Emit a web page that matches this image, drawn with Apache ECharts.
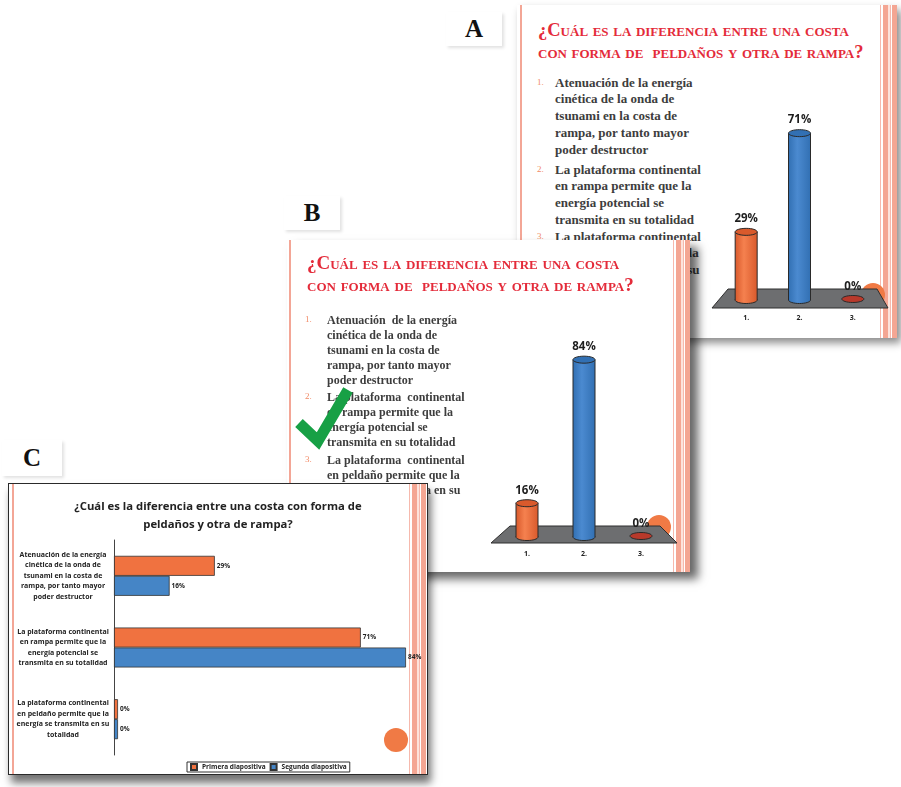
<!DOCTYPE html>
<html lang="es">
<head>
<meta charset="UTF-8">
<title>Diferencia entre costa de peldaños y de rampa</title>
<script src="https://cdn.jsdelivr.net/npm/echarts@6/dist/echarts.min.js"></script>
<style>
    body { margin: 0; width: 901px; height: 787px; position: relative; overflow: hidden; background: #fff; }
    .slide { position: absolute; background: #fff; box-sizing: border-box; }
    .raya { position: absolute; top: 0; bottom: 0; width: 1.5px; background: #f3a696; }
    .franjas { position: absolute; top: 0; bottom: 0; width: 17px;
        background: linear-gradient(to right, #f6b9ad 0, #f6b9ad 1px, #fff 1px, #fff 3px, #f4a693 3px, #f4a693 8px,
            #fde3dc 8px, #fde3dc 10px, #f6b9ad 10px, #f6b9ad 11px, #fff 11px, #fff 12px, #f4a693 12px, #f4a693 17px); }
    .titulo { position: absolute; font-family: "Liberation Serif", serif; font-weight: bold; font-variant: small-caps;
        color: #e42b3a; line-height: 22px; white-space: nowrap; }
    .num { position: absolute; font-family: "Liberation Serif", serif; font-size: 9px; color: #f18a66; }
    .item { position: absolute; font-family: "Liberation Serif", serif; font-weight: bold; color: #3d3d3d; white-space: nowrap; }
    .letra { position: absolute; font-family: "Liberation Serif", serif; font-weight: bold; font-size: 25px; color: #111;
        background: #fff; text-align: center; box-shadow: 2px 2px 3px rgba(0,0,0,0.12); }
    .grafico { position: absolute; }
</style>
</head>
<body>

<div class="letra" style="left: 446px; top: 12px; width: 56px; height: 34px; line-height: 34px;">A</div>
<div class="letra" style="left: 284px; top: 196px; width: 56px; height: 34px; line-height: 34px;">B</div>
<div class="letra" style="left: 2px; top: 440px; width: 60px; height: 36px; line-height: 36px;">C</div>

<!-- diapositiva A -->
<div class="slide" style="left: 517px; top: 5px; width: 380px; height: 333px; box-shadow: 4px 5px 8px rgba(0,0,0,0.45);">
    <div class="raya" style="left: 3px;"></div>
    <div class="franjas" style="right: 0;"></div>
    <div class="titulo" style="left: 21px; top: 14px; font-size: 18.5px;">¿Cuál es la diferencia entre una costa<br>con forma de&nbsp; peldaños y otra de rampa?</div>
    <div class="num" style="left: 20px; top: 72px;">1.</div>
    <div class="item" style="left: 38px; top: 69.6px; font-size: 13px; line-height: 16.8px;">Atenuación de la energía<br>cinética de la onda de<br>tsunami en la costa de<br>rampa, por tanto mayor<br>poder destructor</div>
    <div class="num" style="left: 20px; top: 159px;">2.</div>
    <div class="item" style="left: 38px; top: 156.6px; font-size: 13px; line-height: 16.8px;">La plataforma continental<br>en rampa permite que la<br>energía potencial se<br>transmita en su totalidad</div>
    <div class="num" style="left: 20px; top: 226px;">3.</div>
    <div class="item" style="left: 38px; top: 223.6px; font-size: 13px; line-height: 16.8px;">La plataforma continental<br>en peldaño permite que la<br>energía se transmita en su<br>totalidad</div>
</div>
<div id="graficoA" class="grafico" style="left: 700px; top: 100px; width: 195px; height: 230px;"></div>

<!-- diapositiva B -->
<div class="slide" style="left: 287px; top: 240px; width: 403px; height: 332px; box-shadow: 8px 7px 9px rgba(0,0,0,0.6);">
    <div class="raya" style="left: 2px;"></div>
    <div class="franjas" style="right: 0;"></div>
    <div class="titulo" style="left: 20px; top: 12px; font-size: 19px;">¿Cuál es la diferencia entre una costa<br>con forma de&nbsp; peldaños y otra de rampa?</div>
    <div class="num" style="left: 18px; top: 74px;">1.</div>
    <div class="item" style="left: 40px; top: 72.5px; font-size: 12px; line-height: 15px;">Atenuación&nbsp; de la energía<br>cinética de la onda de<br>tsunami en la costa de<br>rampa, por tanto mayor<br>poder destructor</div>
    <div class="num" style="left: 18px; top: 151px;">2.</div>
    <div class="item" style="left: 40px; top: 149.5px; font-size: 12px; line-height: 15px;">La plataforma&nbsp; continental<br>en rampa permite que la<br>energía potencial se<br>transmita en su totalidad</div>
    <div class="num" style="left: 18px; top: 214px;">3.</div>
    <div class="item" style="left: 40px; top: 212.5px; font-size: 12px; line-height: 15px;">La plataforma&nbsp; continental<br>en peldaño permite que la<br>energía se transmita en su<br>totalidad</div>
</div>
<div id="graficoB" class="grafico" style="left: 480px; top: 320px; width: 200px; height: 250px;"></div>
<svg style="position: absolute; left: 0; top: 0;" width="901" height="787">
    <polyline points="299,423 318,441 348,390" fill="none" stroke="#17a045" stroke-width="11"/>
</svg>

<!-- diapositiva C -->
<div class="slide" style="left: 8px; top: 483px; width: 420px; height: 292px; border: 1px solid #2a2a2a; box-shadow: 3px 8px 8px rgba(0,0,0,0.55);">
    <div class="raya" style="left: 3px;"></div>
    <div class="franjas" style="right: 1px;"></div>
</div>
<div id="graficoC" class="grafico" style="left: 8px; top: 483px; width: 420px; height: 292px;"></div>

<script>
    // datos
    var opciones = ['1.', '2.', '3.'];
    var respuestas = [
        'Atenuación de la energía\ncinética de la onda de\ntsunami en la costa de\nrampa, por tanto mayor\npoder destructor',
        'La plataforma continental\nen rampa permite que la\nenergía potencial se\ntransmita en su totalidad',
        'La plataforma continental\nen peldaño permite que la\nenergía se transmita en su\ntotalidad'
    ];
    var primera = [29, 71, 0];   // Primera diapositiva (A)
    var segunda = [16, 84, 0];   // Segunda diapositiva (B)
    var nombres = ['Primera diapositiva', 'Segunda diapositiva'];

    var fuente = '"Open Sans", sans-serif';

    var tonos = [
        {cuerpo: '#ef6b35', claro: '#f5814f', tapa: '#d95a2c'},
        {cuerpo: '#3a7bc2', claro: '#4b8ad0', tapa: '#3270b3'},
        {cuerpo: '#b8392b', claro: '#c4473a', tapa: '#b8392b'}
    ];

    function cilindros(ancho, ry) {
        return function (params, api) {
            var v = api.value(1);
            var arriba = api.coord([api.value(0), v]);
            var base = api.coord([api.value(0), 0]);
            var cx = base[0], rx = ancho / 2;
            var t = tonos[params.dataIndex];
            var hijos = [];
            if (v > 0) {
                var relleno = new echarts.graphic.LinearGradient(0, 0, 1, 0, [
                    {offset: 0, color: t.tapa},
                    {offset: 0.4, color: t.claro},
                    {offset: 1, color: t.tapa}
                ]);
                hijos.push({type: 'ellipse', shape: {cx: cx, cy: base[1], rx: rx, ry: ry},
                    style: {fill: relleno, stroke: '#2a2a2a', lineWidth: 1}});
                hijos.push({type: 'rect', shape: {x: cx - rx, y: arriba[1], width: ancho, height: base[1] - arriba[1]},
                    style: {fill: relleno}});
                hijos.push({type: 'line', shape: {x1: cx - rx, y1: arriba[1], x2: cx - rx, y2: base[1]},
                    style: {stroke: '#2a2a2a', lineWidth: 1}});
                hijos.push({type: 'line', shape: {x1: cx + rx, y1: arriba[1], x2: cx + rx, y2: base[1]},
                    style: {stroke: '#2a2a2a', lineWidth: 1}});
                hijos.push({type: 'ellipse', shape: {cx: cx, cy: arriba[1], rx: rx, ry: ry},
                    style: {fill: t.tapa, stroke: '#2a2a2a', lineWidth: 1}});
            } else {
                hijos.push({type: 'ellipse', shape: {cx: cx, cy: base[1] - 1, rx: rx, ry: ry},
                    style: {fill: t.cuerpo, stroke: '#2a2a2a', lineWidth: 1}});
            }
            hijos.push({type: 'text', style: {text: v + '%', x: cx, y: arriba[1] - 13,
                align: 'center', verticalAlign: 'middle', textAlign: 'center', textVerticalAlign: 'middle',
                fill: '#1e1e1e', font: 'bold 11.5px "Open Sans"'}});
            return {type: 'group', children: hijos};
        };
    }

    function columnas(valores, max, grid, piso, circulo, margen) {
        return {
            animation: false,
            grid: grid,
            xAxis: {
                type: 'category', data: opciones,
                axisLine: {show: false}, axisTick: {show: false},
                axisLabel: {margin: margen, fontSize: 7, fontWeight: 'bold', color: '#222', fontFamily: fuente}
            },
            yAxis: {type: 'value', min: 0, max: max, show: false, splitLine: {show: false}},
            graphic: [
                {type: 'circle', shape: circulo, style: {fill: '#f07a45'}, z: 0},
                {type: 'polygon', shape: {points: piso}, style: {fill: '#6d6e70', stroke: '#2e2e2e', lineWidth: 1}, z: 1}
            ],
            series: [{
                type: 'custom',
                renderItem: cilindros(22, 3.5),
                data: valores.map(function (v, i) { return [i, v]; }),
                encode: {x: 0, y: 1},
                z: 5
            }]
        };
    }

    var graficoA = echarts.init(document.getElementById('graficoA'));
    graficoA.setOption(columnas(primera, 80,
        {left: 19.5, width: 160, top: 12, height: 188},
        [[28, 189], [177, 189], [188, 208], [12, 208]],
        {cx: 173, cy: 195, r: 12}, 14));

    var graficoB = echarts.init(document.getElementById('graficoB'));
    graficoB.setOption(columnas(segunda, 90,
        {left: 18.5, width: 171, top: 27, height: 190},
        [[30, 206], [180, 206], [197, 223], [11, 223]],
        {cx: 179, cy: 207, r: 12}, 13));

    var etiqueta = {show: true, position: 'right', distance: 2, formatter: '{c}%',
        fontSize: 6.5, fontWeight: 'bold', color: '#222', fontFamily: fuente};

    var graficoC = echarts.init(document.getElementById('graficoC'));
    graficoC.setOption({
        animation: false,
        title: {
            text: '¿Cuál es la diferencia entre una costa con forma de\npeldaños y otra de rampa?',
            left: 'center', top: 10,
            textStyle: {fontFamily: fuente, fontWeight: 'bold', fontSize: 11.3, lineHeight: 18, color: '#222'}
        },
        legend: {
            data: nombres, left: 179, top: 279,
            itemWidth: 6, itemHeight: 6, itemGap: 4, padding: [1, 3],
            borderColor: '#333', borderWidth: 1, icon: 'rect',
            textStyle: {fontFamily: fuente, fontSize: 6.5, fontWeight: 'bold', color: '#222'}
        },
        graphic: [{type: 'circle', shape: {cx: 388, cy: 257, r: 12}, style: {fill: '#f07a45'}}],
        grid: {left: 106, top: 57, width: 292, height: 215},
        xAxis: {type: 'value', min: 0, max: 84, show: false, splitLine: {show: false}},
        yAxis: {
            type: 'category', data: respuestas, inverse: true,
            axisLine: {lineStyle: {color: '#444'}},
            axisTick: {length: 3, lineStyle: {color: '#444'}},
            axisLabel: {align: 'center', margin: 51, fontSize: 7, lineHeight: 10.5, fontWeight: 'bold',
                color: '#222', fontFamily: fuente}
        },
        series: [
            {name: nombres[0], type: 'bar', data: primera, barWidth: 20, barGap: '0%', barMinHeight: 4,
                itemStyle: {color: '#f07240', borderColor: '#333', borderWidth: 0.8}, label: etiqueta},
            {name: nombres[1], type: 'bar', data: segunda, barWidth: 20, barGap: '0%', barMinHeight: 4,
                itemStyle: {color: '#4585c6', borderColor: '#333', borderWidth: 0.8}, label: etiqueta}
        ]
    });
</script>
</body>
</html>
